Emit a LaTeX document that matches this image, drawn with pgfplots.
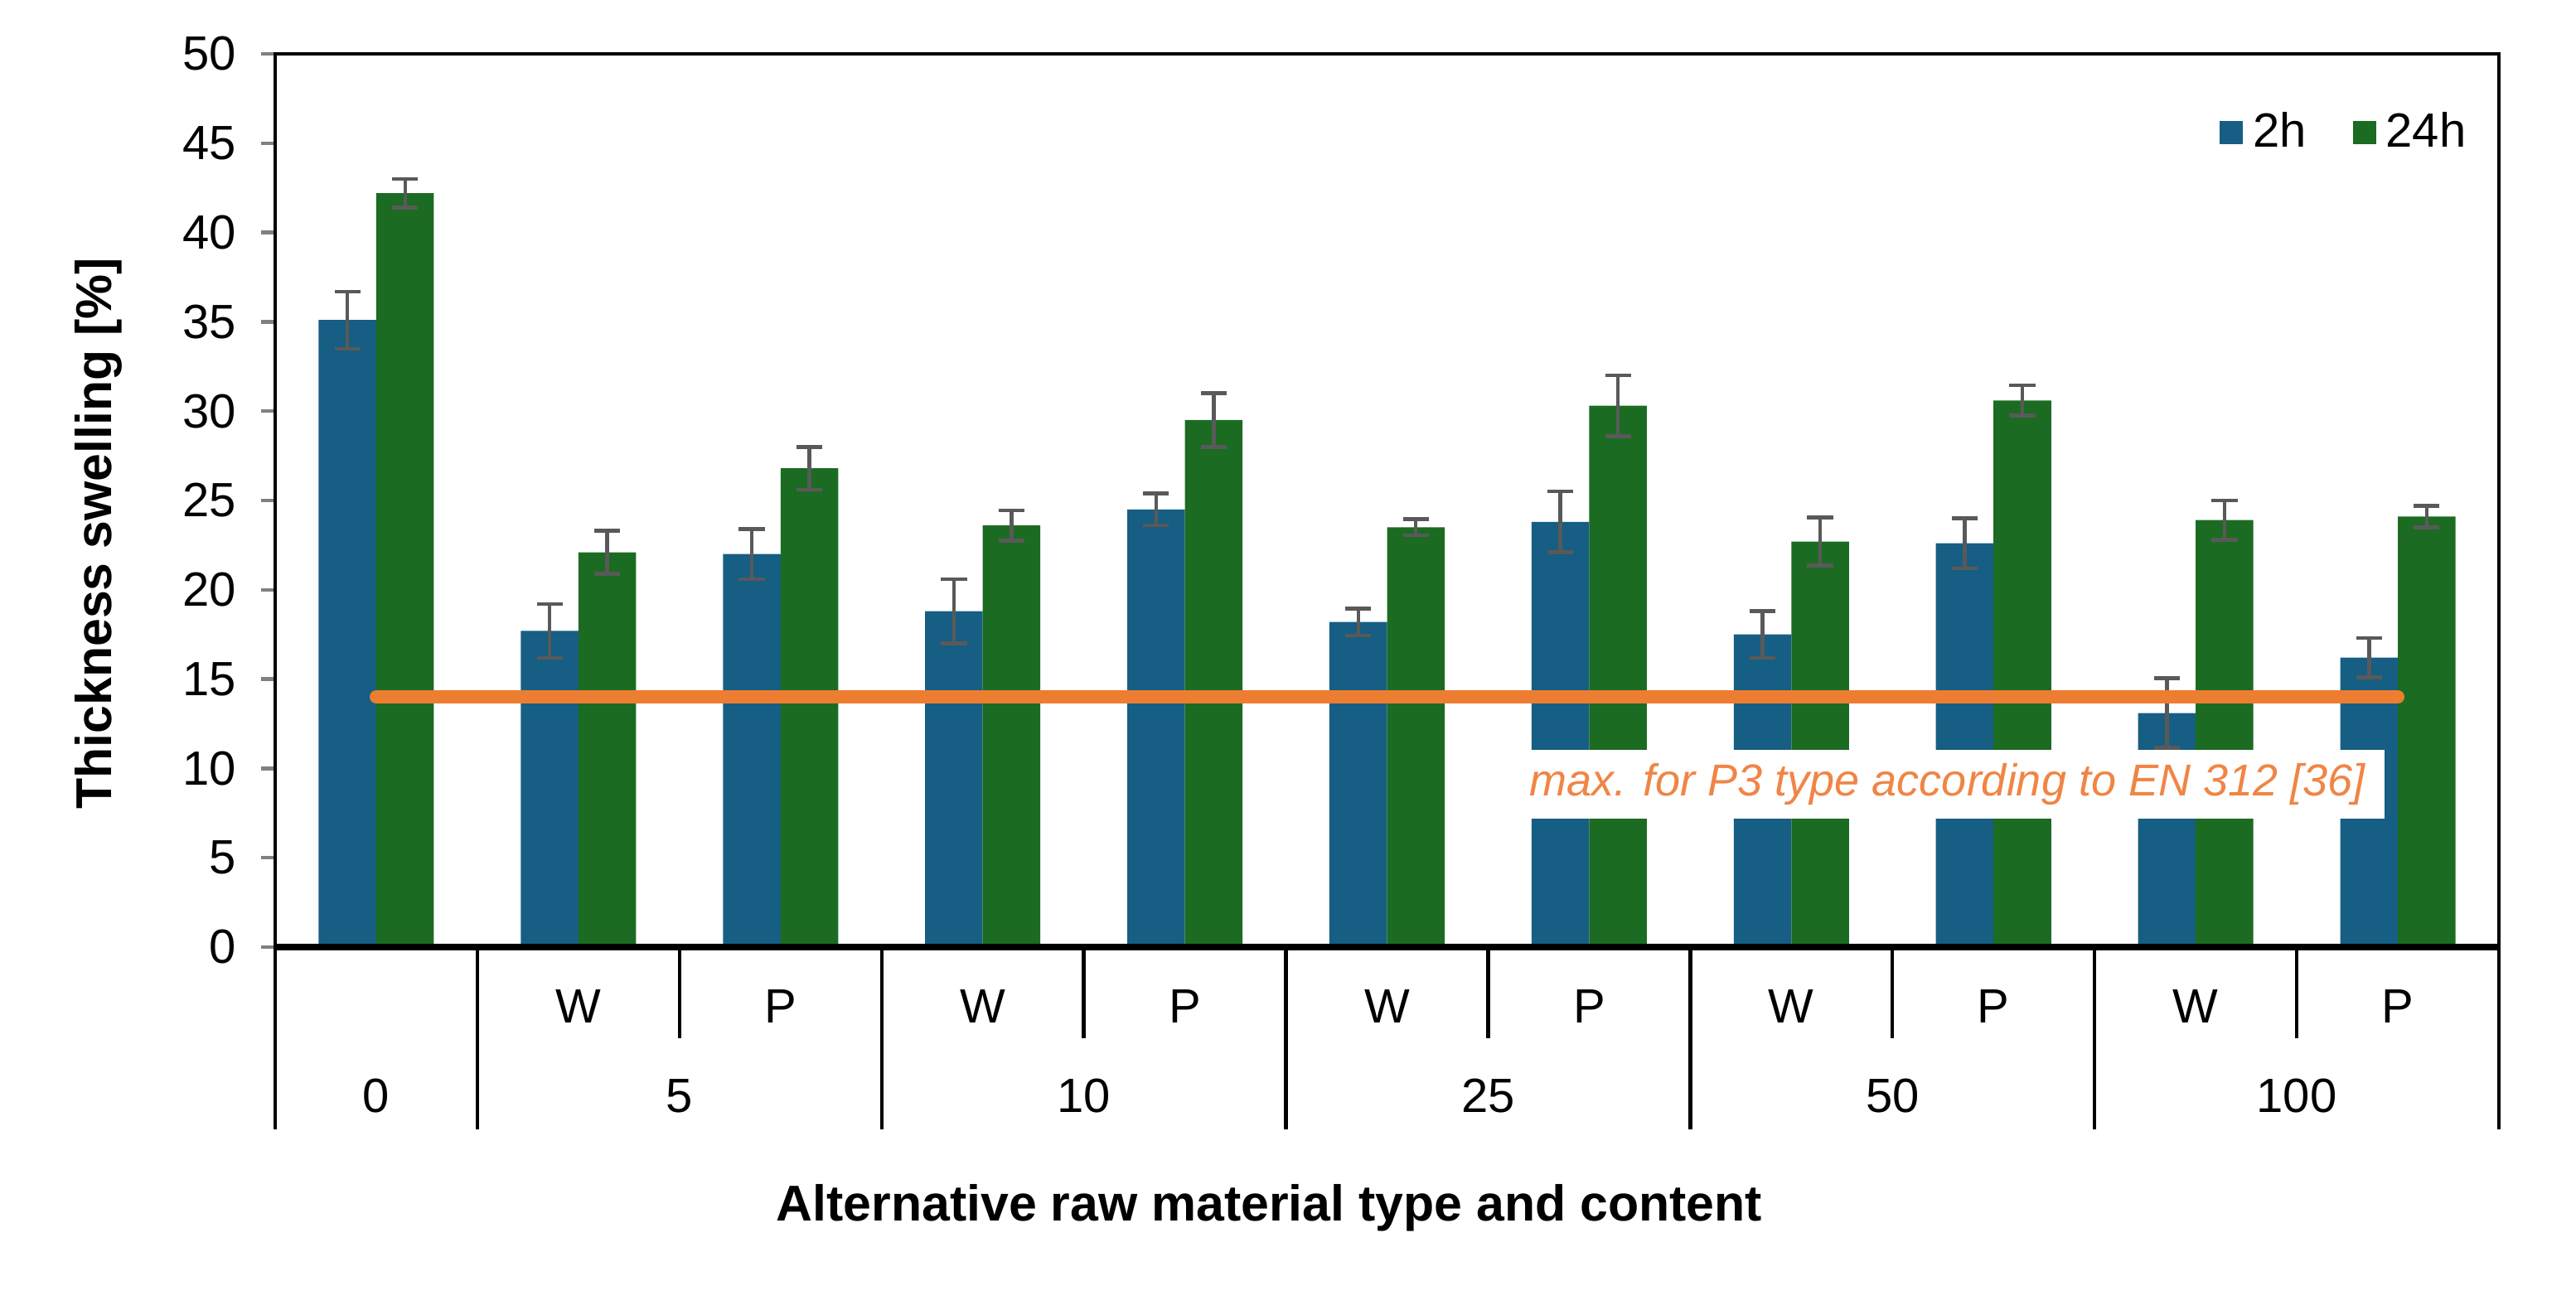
\documentclass[border=0pt]{standalone}
\usepackage{pgfplots}
\pgfplotsset{compat=1.18}
\usepackage{pgfplotstable}
\usepackage{fontspec}
\setmainfont{Liberation Sans}
\definecolor{cblue}{HTML}{165E83}
\definecolor{cgreen}{HTML}{1B6B22}
\definecolor{corange}{HTML}{ED7D31}
\definecolor{ctext}{HTML}{F08545}
\definecolor{cerr}{HTML}{595959}
\pgfplotstableread{
x a ae b be
0 35.1 1.6 42.2 0.8
1 17.7 1.5 22.1 1.2
2 22.0 1.4 26.8 1.2
3 18.8 1.8 23.6 0.85
4 24.5 0.9 29.5 1.5
5 18.2 0.75 23.5 0.45
6 23.8 1.7 30.3 1.7
7 17.5 1.3 22.7 1.35
8 22.6 1.4 30.6 0.85
9 13.1 1.95 23.9 1.1
10 16.2 1.1 24.1 0.6
}\data
\newcommand\tfont{\fontsize{14.5}{17}\selectfont}
\begin{document}
\begin{tikzpicture}
\useasboundingbox (-83pt,-109.5pt) rectangle (694pt,285.75pt);
\begin{axis}[
  at={(0,0)}, anchor=south west,
  scale only axis, width=670.75pt, height=269.5pt,
  xmin=-0.5, xmax=10.5, ymin=0, ymax=50,
  ybar, clip=false,
  ytick={0,5,...,50}, ytick pos=left, tick align=outside,
  major tick length=4.2pt,
  xtick={1,...,10}, xticklabels={W,P,W,P,W,P,W,P,W,P},
  x tick style={draw=none},
  xticklabel style={anchor=center, yshift=-13.6pt},
  yticklabel style={xshift=-4pt},
  tick label style={font=\tfont},
  /pgf/number format/assume math mode=true,
  axis line style={line width=1.1pt},
  ytick style={line width=1.1pt},
  ylabel={Thickness swelling [\%]},
  ylabel style={font=\bfseries\fontsize{15.2}{18}\selectfont, at={(axis description cs:-0.0795,0.463)}, anchor=center},
  xlabel={Alternative raw material type and content},
  xlabel style={font=\bfseries\fontsize{15.2}{18}\selectfont, at={(axis description cs:0.447,-0.2922)}, anchor=center},
  legend style={at={(axis description cs:0.99,0.912)}, anchor=east, draw=none, fill=none,
    inner sep=0pt, font=\tfont, legend columns=2,
    nodes={inner xsep=3pt, inner ysep=1pt},
    /tikz/every even column/.append style={column sep=11pt}},
  legend image code/.code={\fill[#1] (0pt,-3.5pt) rectangle (7pt,3.5pt);},
  error bars/error bar style={cerr, line width=1.1pt},
  error bars/error mark options={cerr, line width=1.1pt, mark size=3.9pt, rotate=90},
]
\addplot[fill=cblue, draw=none, bar width=0.285, bar shift=-0.1425,
  error bars/.cd, y dir=both, y explicit]
  table[x=x, y=a, y error=ae] {\data};
\addplot[fill=cgreen, draw=none, bar width=0.285, bar shift=0.1425,
  error bars/.cd, y dir=both, y explicit]
  table[x=x, y=b, y error=be] {\data};
\legend{2h,24h}
\addplot[sharp plot, corange, line width=4pt, line cap=round, mark=none, forget plot]
  coordinates {(0,14) (10,14)};
\node[fill=white, inner xsep=6pt, inner ysep=0pt, minimum height=20.75pt,
  font=\itshape\fontsize{13.5}{16}\selectfont, text=ctext]
  at (axis cs:7.772,9.1) {max. for P3 type according to EN 312 [36]};
% bottom axis line thicker
\draw[line width=2pt] (axis cs:-0.5,0) -- (axis cs:10.5,0);
% category separators
\pgfplotsinvokeforeach{-0.5,0.5,2.5,4.5,6.5,8.5,10.5}{
  \draw[line width=1.1pt] (axis cs:#1,0) -- ([yshift=-55pt]axis cs:#1,0);}
\pgfplotsinvokeforeach{1.5,3.5,5.5,7.5,9.5}{
  \draw[line width=1.1pt] (axis cs:#1,0) -- ([yshift=-27.5pt]axis cs:#1,0);}
% group labels
\node[font=\tfont] at ([yshift=-45pt]axis cs:0,0) {0};
\node[font=\tfont] at ([yshift=-45pt]axis cs:1.5,0) {5};
\node[font=\tfont] at ([yshift=-45pt]axis cs:3.5,0) {10};
\node[font=\tfont] at ([yshift=-45pt]axis cs:5.5,0) {25};
\node[font=\tfont] at ([yshift=-45pt]axis cs:7.5,0) {50};
\node[font=\tfont] at ([yshift=-45pt]axis cs:9.5,0) {100};
\end{axis}
\end{tikzpicture}
\end{document}
